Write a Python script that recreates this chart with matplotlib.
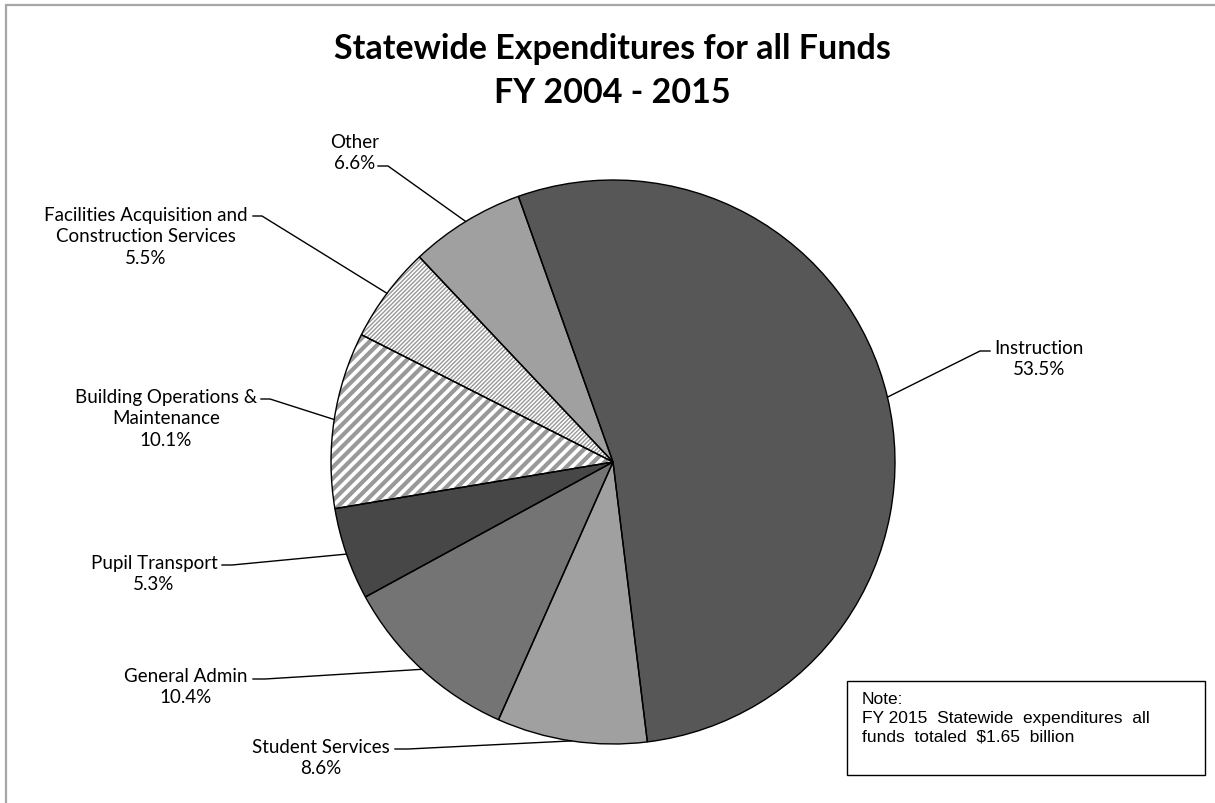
import matplotlib.pyplot as plt
import numpy as np
from matplotlib.patches import Rectangle

# slice data, clockwise from the top
categories = ["Instruction", "Student Services", "General Admin", "Pupil Transport",
              "Building Operations &\nMaintenance",
              "Facilities Acquisition and\nConstruction Services", "Other"]
shares = [53.5, 8.6, 10.4, 5.3, 10.1, 5.5, 6.6]
colors = ["#575757", "#a0a0a0", "#747474", "#474747", "white", "white", "#a0a0a0"]
hatches = [None, None, None, None, "///", "////////", None]

W, H = 1215, 804
fig = plt.figure(figsize=(W / 100, H / 100), dpi=100)
ax = fig.add_axes([0, 0, 1, 1])

def Y(py):
    return H - py

cx, cy, r = 613, 463, 282
start = 109.6

# base fill (hatched wedges get a grey hatch colour via edgecolor)
wedges, _ = ax.pie(shares, colors=colors, center=(cx, Y(cy)), radius=r,
                   startangle=start, counterclock=False, frame=True,
                   wedgeprops=dict(linewidth=0))
for w, h in zip(wedges, hatches):
    if h:
        w.set_hatch(h)
        w.set_edgecolor("#999999")
        if hasattr(w, "set_hatch_linewidth"):
            w.set_hatch_linewidth(3.0 if h == "///" else 1.0)
# black outlines on top
ax.pie(shares, colors=["none"] * len(shares), center=(cx, Y(cy)), radius=r,
       startangle=start, counterclock=False, frame=True,
       wedgeprops=dict(linewidth=1.0, edgecolor="black", fill=False))
ax.set_xlim(0, W)
ax.set_ylim(0, H)
ax.set_aspect("equal")
ax.axis("off")

# label placement: text centre, and the short horizontal hook of each leader line
label_pos = [(1039, 359), (321, 758), (186, 687), (154, 574), (166, 419), (146, 237), (355, 153)]
hook_x = [(980, 990), (408, 395), (265, 253), (232, 222), (270, 261), (262, 253), (388, 378)]
hook_y = [352, 750, 680, 566, 400, 217, 167]

cum = np.cumsum([0] + shares)
font = "Lato"
for i, name in enumerate(categories):
    mid = start - (cum[i] + shares[i] / 2) * 3.6
    px = cx + r * np.cos(np.radians(mid))
    py = cy - r * np.sin(np.radians(mid))
    x0, x1 = hook_x[i]
    ax.plot([px, x0, x1], [Y(py), Y(hook_y[i]), Y(hook_y[i])], color="black", lw=1.0)
    tx, ty = label_pos[i]
    ax.text(tx, Y(ty), f"{name}\n{shares[i]:.1f}%", ha="center", va="center",
            fontsize=13.5, family=font, linespacing=1.3)

fig.text(612 / W, 1 - 71 / H, "Statewide Expenditures for all Funds\nFY 2004 - 2015",
         ha="center", va="center", fontsize=24.5, fontweight="bold", family=font,
         linespacing=1.45)

# note box
ax.add_patch(Rectangle((847, Y(776)), 358, 94, facecolor="white", edgecolor="black", lw=1.0))
ax.text(862, Y(692), "Note:\nFY 2015  Statewide  expenditures  all\nfunds  totaled  $1.65  billion",
        ha="left", va="top", fontsize=12.5, family="Liberation Sans", linespacing=1.3)

# outer chart border (right and bottom edges fall outside the picture)
fig.patches.append(Rectangle((6 / W, -0.05), 1.1, 1 - 6 / H + 0.05, transform=fig.transFigure,
                             facecolor="none", edgecolor="#a6a6a6", lw=1.6))

fig.savefig("out.png", dpi=100)
